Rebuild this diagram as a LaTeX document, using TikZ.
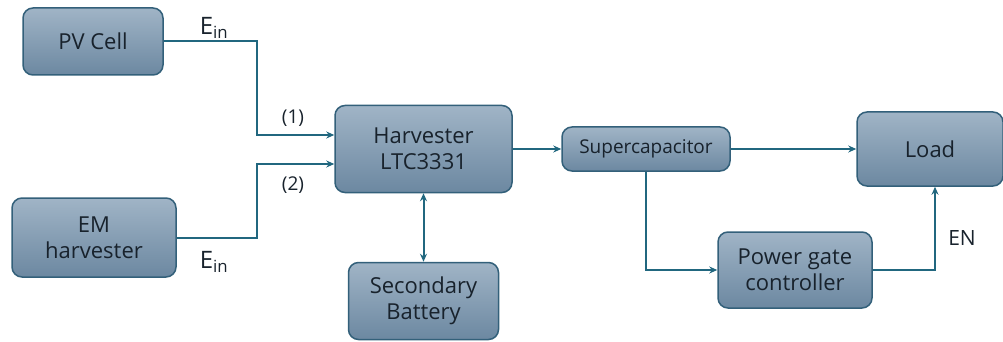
\documentclass[tikz,border=0pt]{standalone}
\usepackage{fontspec}
\setmainfont{Open Sans}
\usepackage{tikz}
\usetikzlibrary{arrows.meta}
\definecolor{pmBorder}{HTML}{33607A}
\definecolor{pmTop}{HTML}{A0B4C6}
\definecolor{pmBot}{HTML}{6C88A1}
\definecolor{pmFlow}{HTML}{21677F}
\definecolor{pmText}{HTML}{18222C}

\begin{document}
\begin{tikzpicture}[x=1pt,y=-1pt,
    blk/.style={draw=pmBorder, line width=1.5pt, rounded corners=10pt, top color=pmTop, bottom color=pmBot, text=pmText, align=center, inner sep=0pt, font=\fontsize{22}{26}\selectfont},
    flow/.style={-{Stealth[length=8pt,width=7pt]}, line width=2pt, draw=pmFlow},
    lbl/.style={text=pmText, inner sep=0pt}]
    \useasboundingbox (0,0) rectangle (1003,342);

    % Sources
    \node[blk, minimum width=140pt, minimum height=67pt] at (93,41.5) (pv) {PV Cell};
    \node[blk, minimum width=164pt, minimum height=79pt] at (94,237.5) (em) {EM\\harvester};

    % Harvester and storage
    \node[blk, minimum width=177pt, minimum height=87pt] at (423.5,149) (harv) {Harvester\\LTC3331};
    \node[blk, minimum width=150pt, minimum height=77pt] at (423.5,301) (batt) {Secondary\\Battery};
    \node[blk, minimum width=168pt, minimum height=44pt, font=\fontsize{19}{23}\selectfont] at (646,149) (supcap) {Supercapacitor};

    % Output side
    \node[blk, minimum width=146pt, minimum height=74pt] at (930,149) (load) {Load};
    \node[blk, minimum width=154pt, minimum height=76pt] at (795,270) (pgc) {Power gate\\controller};

    % Junction column for the two inputs
    \coordinate (jn) at (257,150);

    % Labels
    \node[lbl, font=\fontsize{24}{28}\selectfont] at (214,28) (ein1) {E\textsubscript{in}};
    \node[lbl, font=\fontsize{24}{28}\selectfont] at (214,262) (ein2) {E\textsubscript{in}};
    \node[lbl, font=\fontsize{19}{23}\selectfont] at (293,118) (in1) {(1)};
    \node[lbl, font=\fontsize{19}{23}\selectfont] at (293,185) (in2) {(2)};
    \node[lbl, font=\fontsize{21}{25}\selectfont] at (962,238) (en) {EN};

    % Arrows
    \draw[flow] (pv.east) -- (pv.east -| jn) |- ([yshift=14pt]harv.west);
    \draw[flow] (em.east) -- (em.east -| jn) |- ([yshift=-15pt]harv.west);
    \draw[flow] (harv.east) -- (supcap.west);
    \draw[flow, {Stealth[length=8pt,width=7pt]}-{Stealth[length=8pt,width=7pt]}] (harv.south) -- (batt.north);
    \draw[flow] (supcap.east) -- (load.west);
    \draw[flow] (supcap.south) |- (pgc.west);
    \draw[flow] (pgc.east) -| ([xshift=5pt]load.south);
\end{tikzpicture}
\end{document}
